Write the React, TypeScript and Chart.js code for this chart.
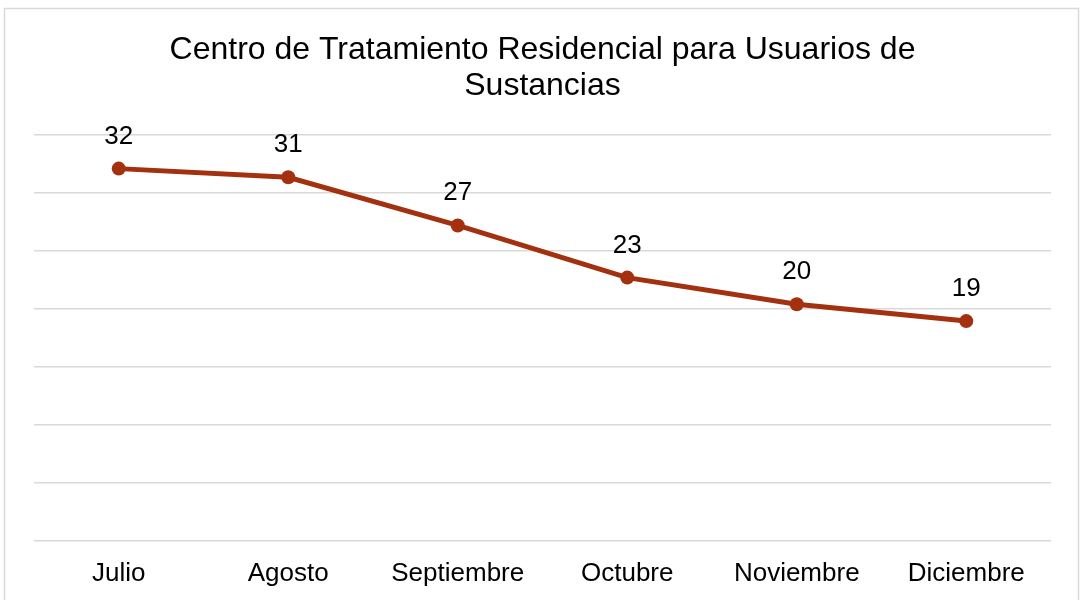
import React, { useEffect, useRef } from "react";
import { Chart, registerables } from "chart.js";

Chart.register(...registerables);

const titleLines = ["Centro de Tratamiento Residencial para Usuarios de", "Sustancias"];
const categories = ["Julio", "Agosto", "Septiembre", "Octubre", "Noviembre", "Diciembre"];
const values = [32.1, 31.35, 27.2, 22.7, 20.4, 18.95];
const yMin = 0;
const yMax = 35;
const yStep = 5;

const FONT = "'Liberation Sans', Arial, sans-serif";
const LINE_COLOR = "#a3300f";
const GRID_COLOR = "#d9d9d9";

const frameBorder = {
  id: "frameBorder",
  beforeDraw(chart: any) {
    const ctx = chart.ctx;
    ctx.save();
    ctx.fillStyle = "#ffffff";
    ctx.fillRect(0, 0, chart.width, chart.height);
    ctx.strokeStyle = GRID_COLOR;
    ctx.lineWidth = 1.5;
    ctx.strokeRect(4.5, 8.5, chart.width - 6, chart.height + 10);
    ctx.restore();
  },
};

const dataLabels = {
  id: "dataLabels",
  afterDatasetsDraw(chart: any) {
    const ctx = chart.ctx;
    ctx.save();
    ctx.font = `26px ${FONT}`;
    ctx.fillStyle = "#000000";
    ctx.textAlign = "center";
    ctx.textBaseline = "alphabetic";
    chart.data.datasets.forEach((ds: any, di: number) => {
      const meta = chart.getDatasetMeta(di);
      meta.data.forEach((pt: any, i: number) => {
        const v = ds.data[i] as number;
        ctx.fillText(String(Math.round(v)), pt.x, pt.y - 25);
      });
    });
    ctx.restore();
  },
};

export default function App() {
  const ref = useRef<HTMLCanvasElement | null>(null);

  useEffect(() => {
    if (!ref.current) return;
    const chart = new Chart(ref.current, {
      type: "line",
      data: {
        labels: categories,
        datasets: [
          {
            data: values,
            borderColor: LINE_COLOR,
            backgroundColor: LINE_COLOR,
            borderWidth: 5,
            pointRadius: 7,
            pointHoverRadius: 7,
            pointBackgroundColor: LINE_COLOR,
            pointBorderColor: LINE_COLOR,
            pointBorderWidth: 0,
            tension: 0,
            fill: false,
          },
        ],
      },
      options: {
        responsive: false,
        animation: false,
        events: [],
        layout: { padding: { left: 34, right: 29, top: 20, bottom: -6 } },
        plugins: {
          legend: { display: false },
          tooltip: { enabled: false },
          title: {
            display: true,
            text: titleLines,
            color: "#000000",
            font: { family: FONT, size: 32, weight: "normal", lineHeight: 36 / 32 },
            padding: { top: 12.6, bottom: 30.4 },
          },
        },
        scales: {
          x: {
            offset: true,
            grid: { display: false, drawTicks: false },
            border: { display: false },
            ticks: {
              color: "#000000",
              font: { family: FONT, size: 26 },
              padding: 17,
              maxRotation: 0,
              autoSkip: false,
            },
          },
          y: {
            min: yMin,
            max: yMax,
            grid: { color: GRID_COLOR, lineWidth: 1.5, drawTicks: false },
            border: { display: false },
            ticks: { display: false, stepSize: yStep },
          },
        },
      },
      plugins: [frameBorder, dataLabels],
    });
    return () => chart.destroy();
  }, []);

  return (
    <div style={{ position: "fixed", left: 0, top: 0, width: 1080, height: 600, background: "#fff" }}>
      <canvas ref={ref} width={1080} height={600} style={{ display: "block" }} />
    </div>
  );
}
